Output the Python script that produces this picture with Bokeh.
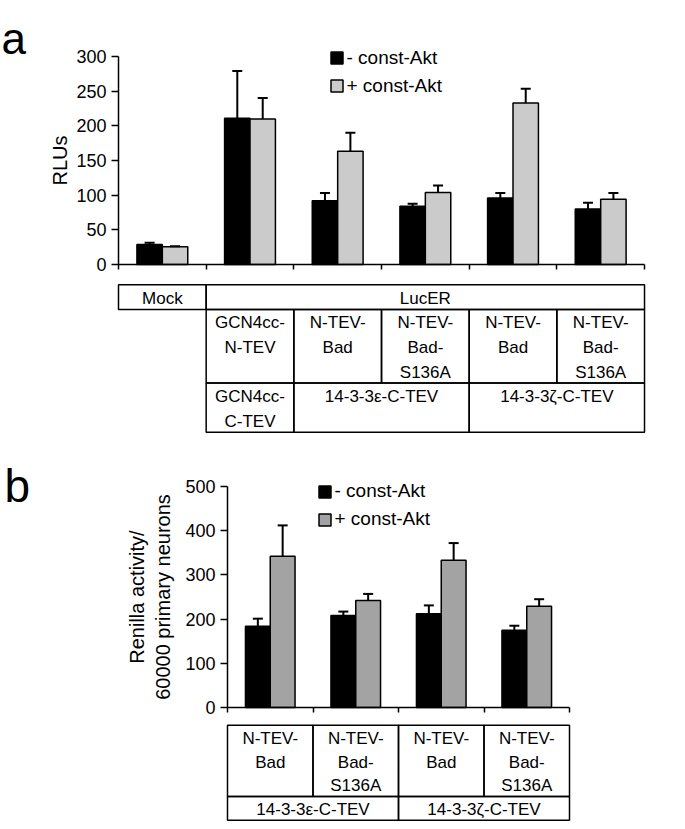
import numpy as np
from bokeh.plotting import figure
from bokeh.models import (Range1d, ColumnDataSource, Whisker, TeeHead, Legend,
                          LegendItem, Label, FixedTicker, LinearAxis)
from bokeh.layouts import column
from bokeh.embed import file_html
from bokeh.resources import INLINE
from bokeh.core.properties import value

FONT = "Liberation Sans"

# ---------------- data: panel a ----------------
a_groups = ["Mock", "GCN4cc", "Bad/14-3-3e", "Bad-S136A/14-3-3e", "Bad/14-3-3z", "Bad-S136A/14-3-3z"]
a_minus = [29, 211, 92, 84, 96, 80]
a_minus_err = [2.5, 68, 11, 3.5, 7, 9]
a_plus = [25.5, 210, 163.5, 104, 233, 94]
a_plus_err = [1, 30, 26.5, 10, 20.5, 9]
a_yticks = [0, 50, 100, 150, 200, 250, 300]

# ---------------- data: panel b ----------------
b_groups = ["Bad/14-3-3e", "Bad-S136A/14-3-3e", "Bad/14-3-3z", "Bad-S136A/14-3-3z"]
b_minus = [184, 208, 212, 175]
b_minus_err = [17, 9, 19, 10]
b_plus = [342, 242, 333, 229]
b_plus_err = [70, 15, 39, 16]
b_yticks = [0, 100, 200, 300, 400, 500]

legend_labels = ["- const-Akt", "+ const-Akt"]

# table cells: (lines, first group, last group, first text row, last text row)
a_table = [
    (["Mock"], 0, 1, 0, 1),
    (["LucER"], 1, 6, 0, 1),
    (["GCN4cc-", "N-TEV"], 1, 2, 1, 4),
    (["N-TEV-", "Bad"], 2, 3, 1, 4),
    (["N-TEV-", "Bad-", "S136A"], 3, 4, 1, 4),
    (["N-TEV-", "Bad"], 4, 5, 1, 4),
    (["N-TEV-", "Bad-", "S136A"], 5, 6, 1, 4),
    (["GCN4cc-", "C-TEV"], 1, 2, 4, 6),
    (["14-3-3\u03b5-C-TEV"], 2, 4, 4, 6),
    (["14-3-3\u03b6-C-TEV"], 4, 6, 4, 6),
]
b_table = [
    (["N-TEV-", "Bad"], 0, 1, 0, 3),
    (["N-TEV-", "Bad-", "S136A"], 1, 2, 0, 3),
    (["N-TEV-", "Bad"], 2, 3, 0, 3),
    (["N-TEV-", "Bad-", "S136A"], 3, 4, 0, 3),
    (["14-3-3\u03b5-C-TEV"], 0, 2, 3, 4),
    (["14-3-3\u03b6-C-TEV"], 2, 4, 3, 4),
]

BAR_W = 0.29
X0 = 0      # page x of the figures' left edge
W = 685     # figure width


def bar_panel(groups, minus, minus_err, plus, plus_err, yticks, gray,
              page_top, page_bottom, x0_page, unit_px, y0_page, px_per_val,
              ylabel, ylabel_standoff, legend_loc, panel_letter, letter_page,
              letter_size):
    n = len(groups)
    height = page_bottom - page_top
    xr = Range1d((X0 - x0_page) / unit_px, (X0 + W - x0_page) / unit_px)
    yr = Range1d(-(page_bottom - y0_page) / px_per_val,
                 (y0_page - page_top) / px_per_val)
    p = figure(width=W, height=height, x_range=xr, y_range=yr,
               output_backend="svg", toolbar_location=None, title=None,
               min_border=0, x_axis_location=None, y_axis_location=None)
    p.outline_line_color = None
    p.grid.visible = False
    p.background_fill_color = "white"
    p.border_fill_color = "white"

    xc = np.arange(n) + 0.5
    s_minus = ColumnDataSource(dict(x=xc - BAR_W / 2, top=minus,
                                    up=np.array(minus) + np.array(minus_err)))
    s_plus = ColumnDataSource(dict(x=xc + BAR_W / 2, top=plus,
                                   up=np.array(plus) + np.array(plus_err)))
    r1 = p.vbar(x="x", top="top", bottom=0, width=BAR_W, source=s_minus,
                fill_color="black", line_color="black", line_width=1.5)
    r2 = p.vbar(x="x", top="top", bottom=0, width=BAR_W, source=s_plus,
                fill_color=gray, line_color="black", line_width=1.5)
    for s in (s_minus, s_plus):
        w = Whisker(source=s, base="x", lower="top", upper="up",
                    dimension="height", line_width=2, line_color="black",
                    upper_head=TeeHead(size=10, line_width=2, line_color="black"),
                    lower_head=None, level="annotation")
        p.add_layout(w)

    # x axis (group boundaries), drawn at value 0
    xa = LinearAxis(fixed_location=0, bounds=(0, n),
                    ticker=FixedTicker(ticks=list(range(n + 1))))
    xa.major_label_overrides = {i: "" for i in range(n + 1)}
    xa.major_label_text_font_size = "1px"
    xa.major_label_standoff = 0
    xa.major_tick_out = 5
    xa.major_tick_in = 0
    xa.minor_tick_out = 0
    xa.minor_tick_in = 0
    xa.axis_line_width = 1.5
    xa.axis_line_color = "black"
    xa.major_tick_line_width = 1.5
    xa.major_tick_line_color = "black"
    p.add_layout(xa, "below")

    ya = LinearAxis(fixed_location=0, bounds=(yticks[0], yticks[-1]),
                    ticker=FixedTicker(ticks=yticks))
    ya.major_tick_out = 7
    ya.major_tick_in = 0
    ya.minor_tick_out = 0
    ya.minor_tick_in = 0
    ya.axis_line_width = 1.5
    ya.axis_line_color = "black"
    ya.major_tick_line_width = 1.5
    ya.major_tick_line_color = "black"
    ya.major_label_text_font = FONT
    ya.major_label_text_font_size = "18px"
    ya.major_label_text_color = "black"
    ya.major_label_standoff = 5
    ya.axis_label = ylabel
    ya.axis_label_text_font = FONT
    ya.axis_label_text_font_size = "20px"
    ya.axis_label_text_font_style = "normal"
    ya.axis_label_text_color = "black"
    ya.axis_label_standoff = ylabel_standoff
    p.add_layout(ya, "left")

    legend = Legend(items=[LegendItem(label=legend_labels[0], renderers=[r1]),
                           LegendItem(label=legend_labels[1], renderers=[r2])],
                    location=legend_loc, orientation="vertical",
                    glyph_width=15, glyph_height=15, label_standoff=3,
                    label_height=22, spacing=6, padding=0, margin=0,
                    label_text_font=FONT, label_text_font_size="19px",
                    label_text_color="black",
                    border_line_alpha=0, background_fill_alpha=0)
    p.add_layout(legend, "center")

    lab = Label(x=(letter_page[0] - x0_page) / unit_px,
                y=(y0_page - letter_page[1]) / px_per_val,
                text=panel_letter, text_font=FONT, text_font_size=letter_size,
                text_color="black", text_align="left",
                text_baseline="alphabetic")
    p.add_layout(lab)
    return p


def table_panel(cells, page_top, page_bottom, x0_page, unit_px, row0_page,
                line_px):
    height = page_bottom - page_top
    xr = Range1d((X0 - x0_page) / unit_px, (X0 + W - x0_page) / unit_px)
    yr = Range1d((page_bottom - row0_page) / line_px,
                 (page_top - row0_page) / line_px)
    p = figure(width=W, height=height, x_range=xr, y_range=yr,
               output_backend="svg", toolbar_location=None, title=None,
               min_border=0, x_axis_location=None, y_axis_location=None)
    p.outline_line_color = None
    p.grid.visible = False
    left, right, top, bottom = [], [], [], []
    tx, ty, tt = [], [], []
    for lines, c0, c1, r0, r1 in cells:
        left.append(c0); right.append(c1); top.append(r0); bottom.append(r1)
        for i, t in enumerate(lines):
            tx.append((c0 + c1) / 2)
            ty.append(r0 + i + 0.55)
            tt.append(t)
    p.quad(left=left, right=right, top=top, bottom=bottom, fill_alpha=0,
           line_color="black", line_width=1.5)
    p.text(x=tx, y=ty, text=tt, text_font=value(FONT), text_font_size="17px",
           text_align="center", text_baseline="middle", text_color="black")
    return p


# panel a: groups from page x 118, 87.67 px each; value 0 at page y 264,
# 300 units = 208 px
pa = bar_panel(a_groups, a_minus, a_minus_err, a_plus, a_plus_err, a_yticks,
               "#CBCBCB", 0, 278, 118, 87.67, 264, 208 / 300,
               "RLUs", 2, (328.5, 181.5), "a", (1, 38), "44px")

ta = table_panel(a_table, 278, 440, 118, 87.67, 284.3, 24.58)

# panel b: groups from page x 227, 85.5 px each; value 0 at page y 707,
# 500 units = 221 px
pb = bar_panel(b_groups, b_minus, b_minus_err, b_plus, b_plus_err, b_yticks,
               "#A3A3A3", 440, 722, 227, 85.5, 707, 221 / 500,
               "Renilla activity/\n60000 primary neurons", 8, (316.5, 192),
               "b", (4, 485), "46px")

tb = table_panel(b_table, 722, 829, 227, 85.5, 724.7, 23.75)

layout = column(pa, ta, pb, tb, spacing=0)
open("out.html", "w").write(file_html(layout, INLINE))
